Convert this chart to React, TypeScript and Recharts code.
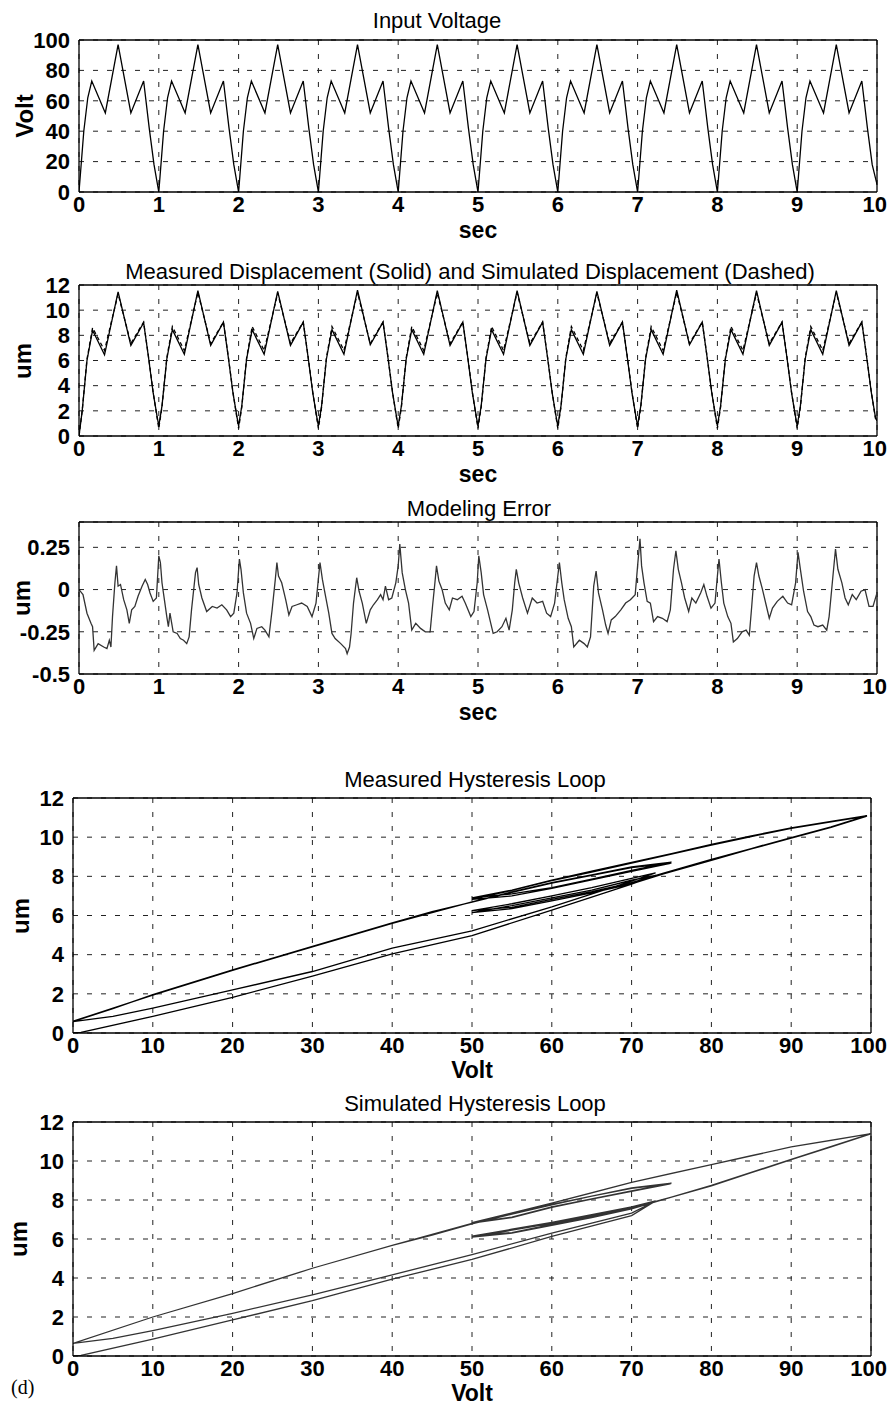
import React from "react";
import { CartesianGrid, Line, LineChart, ReferenceLine, XAxis, YAxis } from "recharts";

const FONT = '"Liberation Sans", Arial, Helvetica, sans-serif';

// input voltage (sec, Volt)
const voltT = [
  0, 0.06, 0.11, 0.16, 0.33, 0.49, 0.65, 0.81, 0.88, 0.94,
  1, 1.06, 1.11, 1.16, 1.33, 1.49, 1.65, 1.81, 1.88, 1.94,
  2, 2.06, 2.11, 2.16, 2.33, 2.49, 2.65, 2.81, 2.88, 2.94,
  3, 3.06, 3.11, 3.16, 3.33, 3.49, 3.65, 3.81, 3.88, 3.94,
  4, 4.06, 4.11, 4.16, 4.33, 4.49, 4.65, 4.81, 4.88, 4.94,
  5, 5.06, 5.11, 5.16, 5.33, 5.49, 5.65, 5.81, 5.88, 5.94,
  6, 6.06, 6.11, 6.16, 6.33, 6.49, 6.65, 6.81, 6.88, 6.94,
  7, 7.06, 7.11, 7.16, 7.33, 7.49, 7.65, 7.81, 7.88, 7.94,
  8, 8.06, 8.11, 8.16, 8.33, 8.49, 8.65, 8.81, 8.88, 8.94,
  9, 9.06, 9.11, 9.16, 9.33, 9.49, 9.65, 9.81, 9.88, 9.94,
  10,
];
const voltV = [
  0, 40, 62, 73, 52, 97, 52, 73, 42, 18,
  0, 40, 62, 73, 52, 97, 52, 73, 42, 18,
  0, 40, 62, 73, 52, 97, 52, 73, 42, 18,
  0, 40, 62, 73, 52, 97, 52, 73, 42, 18,
  0, 40, 62, 73, 52, 97, 52, 73, 42, 18,
  0, 40, 62, 73, 52, 97, 52, 73, 42, 18,
  0, 40, 62, 73, 52, 97, 52, 73, 42, 18,
  0, 40, 62, 73, 52, 97, 52, 73, 42, 18,
  0, 40, 62, 73, 52, 97, 52, 73, 42, 18,
  0, 40, 62, 73, 52, 97, 52, 73, 42, 18,
  5,
];

// displacement (sec, um): measured solid, simulated dashed
const dispT = [
  0, 0.04, 0.1, 0.17, 0.32, 0.49, 0.65, 0.81, 0.87, 0.93, 0.98,
  1, 1.04, 1.1, 1.17, 1.32, 1.49, 1.65, 1.81, 1.87, 1.93, 1.98,
  2, 2.04, 2.1, 2.17, 2.32, 2.49, 2.65, 2.81, 2.87, 2.93, 2.98,
  3, 3.04, 3.1, 3.17, 3.32, 3.49, 3.65, 3.81, 3.87, 3.93, 3.98,
  4, 4.04, 4.1, 4.17, 4.32, 4.49, 4.65, 4.81, 4.87, 4.93, 4.98,
  5, 5.04, 5.1, 5.17, 5.32, 5.49, 5.65, 5.81, 5.87, 5.93, 5.98,
  6, 6.04, 6.1, 6.17, 6.32, 6.49, 6.65, 6.81, 6.87, 6.93, 6.98,
  7, 7.04, 7.1, 7.17, 7.32, 7.49, 7.65, 7.81, 7.87, 7.93, 7.98,
  8, 8.04, 8.1, 8.17, 8.32, 8.49, 8.65, 8.81, 8.87, 8.93, 8.98,
  9, 9.04, 9.1, 9.17, 9.32, 9.49, 9.65, 9.81, 9.87, 9.93, 9.98,
  10,
];
const dispMeas = [
  0, 2.0, 6.0, 8.4, 6.45, 11.45, 7.2, 9.0, 6.3, 3.4, 1.5,
  0.8, 2.4, 6.1, 8.45, 6.5, 11.55, 7.2, 9.05, 6.3, 3.4, 1.5,
  0.8, 2.4, 6.1, 8.45, 6.5, 11.5, 7.2, 9.05, 6.3, 3.4, 1.5,
  0.8, 2.4, 6.1, 8.45, 6.5, 11.6, 7.25, 9.05, 6.3, 3.4, 1.5,
  0.8, 2.4, 6.1, 8.45, 6.5, 11.55, 7.2, 9.05, 6.3, 3.4, 1.5,
  0.8, 2.4, 6.1, 8.45, 6.5, 11.55, 7.2, 9.05, 6.3, 3.4, 1.5,
  0.8, 2.4, 6.1, 8.45, 6.5, 11.5, 7.2, 9.05, 6.3, 3.4, 1.5,
  0.8, 2.4, 6.1, 8.45, 6.5, 11.6, 7.25, 9.05, 6.3, 3.4, 1.5,
  0.8, 2.4, 6.1, 8.45, 6.5, 11.55, 7.2, 9.05, 6.3, 3.4, 1.5,
  0.8, 2.4, 6.1, 8.45, 6.5, 11.55, 7.2, 9.05, 6.3, 3.4, 1.5,
  1.2,
];
const dispSim = [
  0, 2.0, 6.1, 8.6, 6.8, 11.3, 7.35, 9.05, 6.35, 3.45, 1.4,
  0.6, 2.3, 6.2, 8.7, 6.8, 11.4, 7.35, 9.05, 6.35, 3.45, 1.4,
  0.6, 2.3, 6.2, 8.7, 6.8, 11.35, 7.35, 9.05, 6.35, 3.45, 1.4,
  0.6, 2.3, 6.2, 8.7, 6.8, 11.4, 7.35, 9.05, 6.35, 3.45, 1.4,
  0.6, 2.3, 6.2, 8.7, 6.8, 11.35, 7.35, 9.05, 6.35, 3.45, 1.4,
  0.6, 2.3, 6.2, 8.7, 6.8, 11.4, 7.35, 9.05, 6.35, 3.45, 1.4,
  0.6, 2.3, 6.2, 8.7, 6.8, 11.35, 7.35, 9.05, 6.35, 3.45, 1.4,
  0.6, 2.3, 6.2, 8.7, 6.8, 11.4, 7.35, 9.05, 6.35, 3.45, 1.4,
  0.6, 2.3, 6.2, 8.7, 6.8, 11.35, 7.35, 9.05, 6.35, 3.45, 1.4,
  0.6, 2.3, 6.2, 8.7, 6.8, 11.4, 7.35, 9.05, 6.35, 3.45, 1.4,
  1.1,
];

// modeling error (sec, um)
const errT = [
  0, 0.05, 0.1, 0.15, 0.17, 0.19, 0.24, 0.31, 0.35, 0.38, 0.4, 0.42, 0.45, 0.47, 0.49, 0.52, 0.56, 0.6, 0.63, 0.66,
  0.7, 0.74, 0.79, 0.83, 0.86, 0.89, 0.93, 0.97, 1.0, 1.02, 1.04, 1.07, 1.1, 1.12, 1.14, 1.18, 1.23, 1.27, 1.31, 1.35,
  1.38, 1.41, 1.46, 1.48, 1.5, 1.54, 1.6, 1.67, 1.73, 1.79, 1.85, 1.9, 1.94, 1.98, 2.01, 2.03, 2.06, 2.1, 2.15, 2.19,
  2.23, 2.29, 2.33, 2.38, 2.42, 2.46, 2.48, 2.5, 2.54, 2.59, 2.63, 2.67, 2.73, 2.79, 2.86, 2.92, 2.97, 3.02, 3.05, 3.09,
  3.13, 3.17, 3.21, 3.28, 3.34, 3.36, 3.39, 3.41, 3.44, 3.48, 3.51, 3.55, 3.6, 3.65, 3.69, 3.74, 3.78, 3.81, 3.84, 3.88,
  3.92, 3.97, 4.0, 4.02, 4.05, 4.09, 4.13, 4.17, 4.22, 4.28, 4.34, 4.4, 4.43, 4.46, 4.48, 4.51, 4.55, 4.59, 4.64, 4.68,
  4.74, 4.8, 4.84, 4.91, 4.95, 4.99, 5.01, 5.04, 5.07, 5.12, 5.16, 5.19, 5.24, 5.3, 5.35, 5.39, 5.43, 5.46, 5.48, 5.51,
  5.56, 5.62, 5.68, 5.74, 5.81, 5.86, 5.91, 5.96, 6.02, 6.05, 6.08, 6.13, 6.17, 6.2, 6.27, 6.33, 6.37, 6.41, 6.45, 6.48,
  6.51, 6.56, 6.6, 6.63, 6.67, 6.72, 6.79, 6.85, 6.91, 6.97, 7.0, 7.03, 7.05, 7.08, 7.12, 7.16, 7.2, 7.25, 7.31, 7.37,
  7.41, 7.45, 7.48, 7.51, 7.55, 7.59, 7.64, 7.68, 7.73, 7.79, 7.83, 7.87, 7.92, 7.97, 8.0, 8.02, 8.05, 8.08, 8.13, 8.17,
  8.2, 8.25, 8.31, 8.36, 8.4, 8.43, 8.46, 8.49, 8.52, 8.56, 8.61, 8.65, 8.69, 8.75, 8.82, 8.88, 8.93, 8.98, 9.01, 9.04,
  9.08, 9.13, 9.17, 9.21, 9.26, 9.32, 9.37, 9.4, 9.44, 9.48, 9.51, 9.56, 9.6, 9.64, 9.69, 9.74, 9.8, 9.85, 9.9, 9.95,
  10,
];
const errV = [
  0.0, -0.03, -0.14, -0.2, -0.22, -0.36, -0.32, -0.34, -0.35, -0.3, -0.34, -0.16, 0.04, 0.14, 0.02, 0.03, -0.06, -0.12, -0.2, -0.12,
  -0.1, -0.04, 0.02, 0.06, 0.03, -0.02, -0.07, -0.05, 0.2, 0.16, 0.04, -0.06, -0.16, -0.22, -0.14, -0.25, -0.26, -0.29, -0.3, -0.32,
  -0.28, -0.12, 0.1, 0.13, 0.03, -0.05, -0.13, -0.1, -0.11, -0.09, -0.12, -0.16, -0.14, -0.02, 0.18, 0.12, -0.02, -0.14, -0.2, -0.29,
  -0.23, -0.22, -0.24, -0.28, -0.12, 0.06, 0.16, 0.08, 0.04, -0.06, -0.15, -0.1, -0.09, -0.08, -0.1, -0.16, -0.08, 0.16, 0.06, -0.04,
  -0.14, -0.26, -0.29, -0.32, -0.35, -0.38, -0.34, -0.26, -0.08, 0.07, -0.01, -0.08, -0.2, -0.12, -0.09, -0.06, -0.03, -0.06, 0.02, -0.06,
  -0.05, 0.04, 0.14, 0.27, 0.1, 0.0, -0.08, -0.24, -0.2, -0.23, -0.25, -0.25, -0.1, 0.04, 0.14, 0.05, 0.0, -0.08, -0.12, -0.05,
  -0.06, -0.04, -0.08, -0.16, -0.13, 0.04, 0.2, 0.1, -0.03, -0.12, -0.2, -0.26, -0.25, -0.22, -0.17, -0.24, -0.12, 0.04, 0.12, 0.04,
  -0.05, -0.14, -0.05, -0.08, -0.07, -0.14, -0.16, -0.08, 0.16, 0.04, -0.06, -0.17, -0.22, -0.34, -0.3, -0.32, -0.34, -0.28, 0.02, 0.11,
  -0.02, -0.12, -0.21, -0.26, -0.18, -0.16, -0.12, -0.08, -0.06, -0.03, 0.14, 0.3, 0.14, 0.04, -0.07, -0.08, -0.19, -0.16, -0.17, -0.19,
  -0.12, 0.12, 0.23, 0.12, 0.04, -0.05, -0.13, -0.05, -0.08, -0.02, 0.03, -0.04, -0.11, -0.08, 0.08, 0.18, 0.04, -0.08, -0.16, -0.2,
  -0.31, -0.29, -0.25, -0.24, -0.27, -0.1, 0.08, 0.16, 0.08, 0.01, -0.09, -0.17, -0.11, -0.07, -0.04, -0.08, -0.09, 0.04, 0.22, 0.12,
  -0.01, -0.13, -0.16, -0.21, -0.22, -0.21, -0.24, -0.16, 0.04, 0.24, 0.12, 0.04, -0.05, -0.09, -0.03, -0.06, -0.01, 0.0, -0.1, -0.1,
  -0.02,
];

// measured hysteresis loop, traced in time order (Volt, um)
const measV = [
  0, 1, 10, 20, 30, 40, 50, 60, 70, 73,
  70, 65, 60, 55, 50,
  55, 60, 65, 70, 74, 80, 85, 90, 95, 99.5,
  95, 90, 85, 80, 75, 70, 65, 60, 55, 50,
  55, 60, 65, 70, 75,
  70, 65, 60, 55, 50, 45, 40, 30, 20, 10, 5, 0,
  5, 10, 20, 30, 40, 50, 60, 70, 73,
  70, 65, 60, 55, 50,
  55, 60, 65, 70, 74, 80, 85, 90, 95, 99.5,
  95, 90, 85, 80, 75, 70, 65, 60, 55, 50,
  55, 60, 65, 70, 75,
  70, 65, 60, 55, 50, 40, 30, 20, 10, 0,
];
const measU = [
  0, 0.03, 0.85, 1.82, 2.9, 4.04, 4.97, 6.27, 7.6, 8.05,
  7.8, 7.3, 6.9, 6.5, 6.15,
  6.35, 6.75, 7.15, 7.62, 8.12, 8.82, 9.4, 9.95, 10.5, 11.08,
  10.78, 10.45, 10.03, 9.6, 9.13, 8.68, 8.22, 7.78, 7.28, 6.82,
  7.0, 7.38, 7.82, 8.25, 8.68,
  8.45, 8.05, 7.65, 7.18, 6.68, 6.2, 5.62, 4.42, 3.22, 1.96, 1.25, 0.58,
  0.85, 1.27, 2.2, 3.14, 4.33, 5.22, 6.44, 7.76, 8.18,
  7.9, 7.42, 7.0, 6.6, 6.25,
  6.42, 6.82, 7.22, 7.68, 8.16, 8.86, 9.42, 9.98, 10.52, 11.1,
  10.8, 10.48, 10.06, 9.63, 9.16, 8.71, 8.26, 7.8, 7.3, 6.9,
  7.1, 7.42, 7.86, 8.3, 8.72,
  8.48, 8.08, 7.68, 7.2, 6.7, 5.6, 4.4, 3.2, 1.94, 0.6,
];

// simulated hysteresis loop, traced in time order (Volt, um)
const simV = [
  0, 1, 10, 20, 30, 40, 50, 60, 70, 73,
  70, 65, 60, 55, 50,
  55, 60, 65, 70, 75, 80, 85, 90, 95, 100,
  95, 90, 85, 80, 75, 70, 65, 60, 55, 50,
  55, 60, 65, 70, 75,
  70, 65, 60, 55, 50, 45, 40, 30, 20, 10, 0,
  5, 10, 20, 30, 40, 50, 60, 70, 73,
  70, 65, 60, 55, 50,
  55, 60, 65, 70, 75, 80, 90, 100,
  90, 80, 70, 60, 50,
  55, 60, 70, 75,
  70, 60, 50, 40, 30, 20, 10, 0,
];
const simU = [
  0, 0.03, 0.86, 1.85, 2.84, 3.94, 4.95, 6.13, 7.2, 7.95,
  7.6, 7.2, 6.8, 6.45, 6.1,
  6.3, 6.7, 7.1, 7.55, 8.15, 8.73, 9.4, 10.07, 10.72, 11.4,
  11.06, 10.72, 10.27, 9.81, 9.36, 8.9, 8.37, 7.84, 7.33, 6.82,
  7.1, 7.62, 8.05, 8.44, 8.84,
  8.6, 8.2, 7.75, 7.28, 6.78, 6.2, 5.67, 4.5, 3.2, 2.0, 0.65,
  0.9, 1.3, 2.19, 3.13, 4.16, 5.2, 6.3, 7.33, 7.95,
  7.65, 7.25, 6.85, 6.5, 6.15,
  6.33, 6.75, 7.15, 7.6, 8.15, 8.75, 10.08, 11.4,
  10.72, 9.81, 8.9, 7.84, 6.84,
  7.12, 7.65, 8.47, 8.86,
  8.62, 7.77, 6.8, 5.67, 4.5, 3.2, 2.0, 0.65,
];

const voltData = voltT.map((t, i) => ({ t, v: voltV[i] }));
const dispData = dispT.map((t, i) => ({ t, meas: dispMeas[i], sim: dispSim[i] }));
const errData = errT.map((t, i) => ({ t, e: errV[i] }));
const measLoop = measV.map((v, i) => ({ v, u: measU[i] }));
const simLoop = simV.map((v, i) => ({ v, u: simU[i] }));

const secTicks = [0, 1, 2, 3, 4, 5, 6, 7, 8, 9, 10];
const voltTicks = [0, 10, 20, 30, 40, 50, 60, 70, 80, 90, 100];
const umTicks = [0, 2, 4, 6, 8, 10, 12];

type Series = { key: string; color: string; dash?: string };

type PanelProps = {
  top: number;
  bottom: number;
  left: number;
  right: number;
  data: any[];
  xKey: string;
  xDomain: [number, number];
  xTicks: number[];
  yDomain: [number, number];
  yTicks: number[];
  series: Series[];
  title: string;
  titleX: number;
  titleY: number;
  xLabel: string;
  xLabelDy?: number;
  yLabel: string;
  yLabelX: number;
};

const TICK_SIZE = 22;
const tickStyle = { fontSize: TICK_SIZE, fontWeight: 700, fill: "#000", fontFamily: FONT };

// x tick label; the last one is nudged so it stays inside the page
function XTick(props: any) {
  const label = String(props.payload.value);
  const half = (label.length * TICK_SIZE * 0.556) / 2;
  const x = Math.min(props.x, 887 - half);
  return (
    <text x={x} y={props.y} dy="0.71em" textAnchor="middle" {...tickStyle}>
      {label}
    </text>
  );
}

function Panel(p: PanelProps) {
  const padTop = 20;
  const axisH = 50;
  const h = p.bottom - p.top + padTop + axisH;
  return (
    <>
      <div
        style={{
          position: "absolute",
          left: p.titleX,
          top: p.titleY,
          transform: "translate(-50%, -50%)",
          fontFamily: FONT,
          fontSize: 22,
          lineHeight: 1,
          whiteSpace: "nowrap",
          color: "#000",
        }}
      >
        {p.title}
      </div>
      <div
        style={{
          position: "absolute",
          left: (p.left + p.right) / 2,
          top: p.bottom + (p.xLabelDy ?? 38),
          transform: "translate(-50%, -50%)",
          fontFamily: FONT,
          fontSize: 23,
          fontWeight: 700,
          lineHeight: 1,
          color: "#000",
        }}
      >
        {p.xLabel}
      </div>
      <div
        style={{
          position: "absolute",
          left: p.yLabelX,
          top: (p.top + p.bottom) / 2,
          transform: "translate(-50%, -50%) rotate(-90deg)",
          fontFamily: FONT,
          fontSize: 24,
          fontWeight: 700,
          lineHeight: 1,
          color: "#000",
        }}
      >
        {p.yLabel}
      </div>
      <div style={{ position: "absolute", left: 0, top: p.top - padTop }}>
        <LineChart
          width={888}
          height={h}
          data={p.data}
          margin={{ top: padTop, right: 888 - p.right, left: 0, bottom: 0 }}
        >
          <CartesianGrid stroke="#222" strokeDasharray="5 9" strokeWidth={1} />
          <XAxis
            dataKey={p.xKey}
            type="number"
            domain={p.xDomain}
            ticks={p.xTicks}
            allowDataOverflow
            height={axisH}
            tickLine={false}
            tickSize={0}
            tickMargin={4}
            axisLine={{ stroke: "#000", strokeWidth: 1.3 }}
            tick={<XTick />}
            interval={0}
          />
          <YAxis
            type="number"
            domain={p.yDomain}
            ticks={p.yTicks}
            allowDataOverflow
            width={p.left}
            tickLine={false}
            tickSize={0}
            tickMargin={9}
            axisLine={{ stroke: "#000", strokeWidth: 1.3 }}
            tick={tickStyle}
            interval={0}
          />
          <ReferenceLine x={p.xDomain[1]} stroke="#000" strokeWidth={1.3} />
          <ReferenceLine y={p.yDomain[1]} stroke="#000" strokeWidth={1.3} />
          {p.series.map((s) => (
            <Line
              key={s.key}
              type="linear"
              dataKey={s.key}
              stroke={s.color}
              strokeWidth={1.3}
              strokeDasharray={s.dash}
              dot={false}
              isAnimationActive={false}
            />
          ))}
        </LineChart>
      </div>
    </>
  );
}

export default function App() {
  return (
    <div
      style={{
        position: "absolute",
        left: 0,
        top: 0,
        width: 888,
        height: 1404,
        background: "#fff",
        overflow: "hidden",
      }}
    >
      <Panel
        top={40}
        bottom={192}
        left={79}
        right={877}
        data={voltData}
        xKey="t"
        xDomain={[0, 10]}
        xTicks={secTicks}
        yDomain={[0, 100]}
        yTicks={[0, 20, 40, 60, 80, 100]}
        series={[{ key: "v", color: "#000" }]}
        title="Input Voltage"
        titleX={437}
        titleY={21}
        xLabel="sec"
        yLabel="Volt"
        yLabelX={25}
      />
      <Panel
        top={285}
        bottom={436}
        left={79}
        right={877}
        data={dispData}
        xKey="t"
        xDomain={[0, 10]}
        xTicks={secTicks}
        yDomain={[0, 12]}
        yTicks={umTicks}
        series={[
          { key: "meas", color: "#000" },
          { key: "sim", color: "#000", dash: "4 3" },
        ]}
        title="Measured Displacement (Solid) and Simulated Displacement (Dashed)"
        titleX={470}
        titleY={272}
        xLabel="sec"
        yLabel="um"
        yLabelX={23}
      />
      <Panel
        top={522}
        bottom={674}
        left={79}
        right={877}
        data={errData}
        xKey="t"
        xDomain={[0, 10]}
        xTicks={secTicks}
        yDomain={[-0.5, 0.4]}
        yTicks={[-0.5, -0.25, 0, 0.25]}
        series={[{ key: "e", color: "#333" }]}
        title="Modeling Error"
        titleX={479}
        titleY={509}
        xLabel="sec"
        yLabel="um"
        yLabelX={22}
      />
      <Panel
        top={798}
        bottom={1033}
        left={73}
        right={871}
        data={measLoop}
        xKey="v"
        xDomain={[0, 100]}
        xTicks={voltTicks}
        yDomain={[0, 12]}
        yTicks={umTicks}
        series={[{ key: "u", color: "#000" }]}
        title="Measured Hysteresis Loop"
        titleX={475}
        titleY={780}
        xLabel="Volt"
        xLabelDy={37}
        yLabel="um"
        yLabelX={21}
      />
      <Panel
        top={1122}
        bottom={1356}
        left={73}
        right={871}
        data={simLoop}
        xKey="v"
        xDomain={[0, 100]}
        xTicks={voltTicks}
        yDomain={[0, 12]}
        yTicks={umTicks}
        series={[{ key: "u", color: "#333" }]}
        title="Simulated Hysteresis Loop"
        titleX={475}
        titleY={1104}
        xLabel="Volt"
        xLabelDy={37}
        yLabel="um"
        yLabelX={19}
      />
      <div
        style={{
          position: "absolute",
          left: 11,
          top: 1376,
          fontFamily: '"Liberation Serif", "Times New Roman", serif',
          fontSize: 20,
          color: "#000",
        }}
      >
        (d)
      </div>
    </div>
  );
}
